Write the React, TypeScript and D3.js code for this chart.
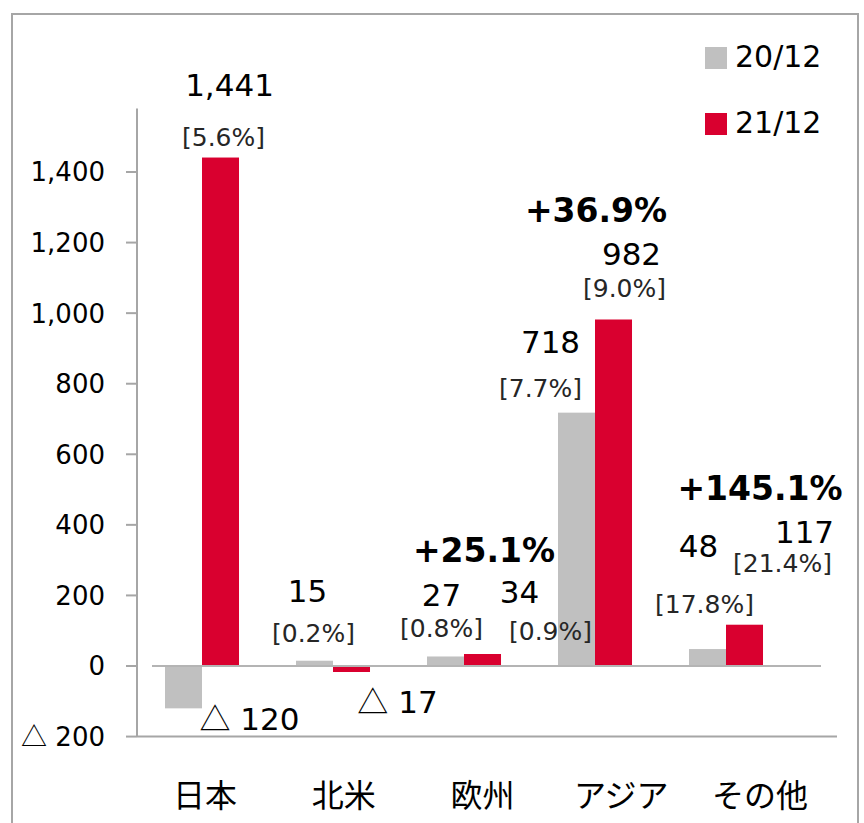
import React from "react";
import * as d3 from "d3";

// data
const categories = ["日本", "北米", "欧州", "アジア", "その他"];
const seriesNames = ["20/12", "21/12"];
const values20 = [-120, 15, 27, 718, 48];
const values21 = [1441, -17, 34, 982, 117];
const share20 = ["", "0.2%", "0.8%", "7.7%", "17.8%"];
const share21 = ["5.6%", "", "0.9%", "9.0%", "21.4%"];
const growth = ["", "", "+25.1%", "+36.9%", "+145.1%"];
const yTicks = [-200, 0, 200, 400, 600, 800, 1000, 1200, 1400];

const colors = ["#c0c0c0", "#d9002f"];

// label nudges (px) from the bar centre / bar end
const valueNudge20 = [[66, 22], [-7, -59], [-4, -50], [-26, -60], [-9, -92]];
const shareNudge20 = [[0, 0], [-1, -19], [-4, -19], [-36, -16], [-3, -36]];
const valueNudge21 = [[9, -62], [46, 41], [37, -51], [18, -54], [60, -82]];
const shareNudge21 = [[3, -12], [0, 0], [68, -14], [11, -22], [38, -53]];
const growthNudge = [[0, 0], [0, 0], [20, -92], [1, -97], [34, -125]];

const W = 864;
const H = 823;
const font = "'DejaVu Sans', Verdana, sans-serif";
const cjk = "'Noto Sans CJK JP', sans-serif";

// negatives are written with a triangle, Japanese style
const Num = ({ v }: { v: number }) =>
  v < 0 ? (
    <>
      <tspan fontFamily={cjk}>△</tspan>
      {" " + d3.format(",")(-v)}
    </>
  ) : (
    <>{d3.format(",")(v)}</>
  );

const App = () => {
  const x = d3
    .scaleBand()
    .domain(categories)
    .range([136.5, 791.5])
    .paddingInner(0.435)
    .paddingOuter(0.2175);
  const xs = d3.scaleBand().domain(seriesNames).range([0, x.bandwidth()]);
  const y = d3.scaleLinear().domain([0, 1400]).range([666, 172]);
  const labelX = d3.scalePoint().domain(categories).range([205, 760]);

  const axisX = 137;
  const series = [values20, values21];
  const shares = [share20, share21];
  const vNudge = [valueNudge20, valueNudge21];
  const sNudge = [shareNudge20, shareNudge21];

  return (
    <svg
      width={W}
      height={H}
      style={{ position: "absolute", left: 0, top: 0, background: "#fff" }}
    >
      {/* outer frame */}
      <rect x={12} y={14} width={846} height={840} fill="none" stroke="#a6a6a6" strokeWidth={2} />

      {/* y axis */}
      <line x1={axisX} x2={axisX} y1={y(-200)} y2={y(1580)} stroke="#a6a6a6" strokeWidth={2} />
      {yTicks.map((t) => (
        <g key={t}>
          <line x1={axisX - 11} x2={axisX} y1={y(t)} y2={y(t)} stroke="#a6a6a6" strokeWidth={2} />
          <text
            x={105}
            y={y(t)}
            dy="0.36em"
            textAnchor="end"
            fontFamily={font}
            fontSize={26}
            fill="#000"
          >
            <Num v={t} />
          </text>
        </g>
      ))}
      <line x1={axisX} x2={837} y1={y(-200)} y2={y(-200)} stroke="#a6a6a6" strokeWidth={2} />

      {/* bars */}
      {categories.map((c, i) =>
        series.map((vals, s) => {
          const v = vals[i];
          return (
            <rect
              key={c + s}
              x={x(c)! + xs(seriesNames[s])!}
              y={Math.min(y(v), y(0))}
              width={xs.bandwidth()}
              height={Math.abs(y(v) - y(0))}
              fill={colors[s]}
            />
          );
        })
      )}

      {/* zero line */}
      <line x1={152} x2={821} y1={y(0)} y2={y(0)} stroke="#b4b4b4" strokeWidth={2} />

      {/* value + share labels */}
      {categories.map((c, i) =>
        series.map((vals, s) => {
          const v = vals[i];
          const cx = x(c)! + xs(seriesNames[s])! + xs.bandwidth() / 2;
          const end = y(v);
          const [vdx, vdy] = vNudge[s][i];
          const [sdx, sdy] = sNudge[s][i];
          return (
            <g key={"l" + c + s}>
              <text
                x={cx + vdx}
                y={end + vdy}
                textAnchor="middle"
                fontFamily={font}
                fontSize={31}
                fill="#000"
              >
                <Num v={v} />
              </text>
              {shares[s][i] && (
                <text
                  x={cx + sdx}
                  y={end + sdy}
                  textAnchor="middle"
                  fontFamily={font}
                  fontSize={25}
                  fill="#262626"
                >
                  {"[" + shares[s][i] + "]"}
                </text>
              )}
            </g>
          );
        })
      )}

      {/* growth labels */}
      {categories.map((c, i) =>
        growth[i] ? (
          <text
            key={"g" + c}
            x={x(c)! + x.bandwidth() / 2 + growthNudge[i][0]}
            y={y(Math.max(values20[i], values21[i])) + growthNudge[i][1]}
            textAnchor="middle"
            fontFamily={font}
            fontSize={33}
            fontWeight="bold"
            fill="#000"
          >
            {growth[i]}
          </text>
        ) : null
      )}

      {/* category labels */}
      {categories.map((c) => (
        <text
          key={"c" + c}
          x={labelX(c)}
          y={807}
          textAnchor="middle"
          fontFamily={cjk}
          fontSize={32}
          fill="#000"
        >
          {c}
        </text>
      ))}

      {/* legend */}
      {seriesNames.map((n, s) => (
        <g key={n} transform={`translate(705, ${47 + s * 66})`}>
          <rect width={22} height={22} fill={colors[s]} />
          <text x={30} y={20} fontFamily={font} fontSize={30} fill="#000">
            {n}
          </text>
        </g>
      ))}
    </svg>
  );
};

export default App;
